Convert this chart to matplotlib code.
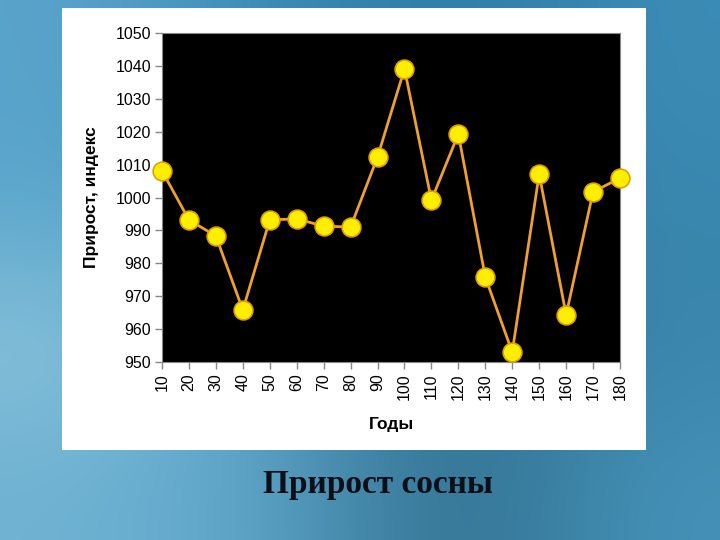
import numpy as np
import matplotlib.pyplot as plt
from matplotlib.colors import to_rgb

years = [10, 20, 30, 40, 50, 60, 70, 80, 90, 100, 110, 120, 130, 140, 150, 160, 170, 180]
growth = [1008.1, 993.2, 988.3, 965.8, 993.2, 993.5, 991.3, 991.0, 1012.3, 1039.1,
          999.2, 1019.3, 975.8, 953.0, 1007.1, 964.3, 1001.7, 1005.9]

ylabel = 'Прирост, индекс'
xlabel = 'Годы'
caption = 'Прирост сосны'

plt.rcParams['font.family'] = ['Liberation Sans', 'DejaVu Sans']

fig = plt.figure(figsize=(7.2, 5.4), dpi=100)

# slide background: blue gradient, lighter towards the lower left
bg = fig.add_axes([0, 0, 1, 1])
corners = np.array([
    [to_rgb('#5aa4cc'), to_rgb('#3a8ab4'), to_rgb('#2f7aa6'), to_rgb('#3b8cb6')],
    [to_rgb('#5aa6cc'), to_rgb('#3e8db6'), to_rgb('#2c7299'), to_rgb('#3a88b0')],
    [to_rgb('#8cc4dc'), to_rgb('#4f9cc2'), to_rgb('#2e6a88'), to_rgb('#3a86ac')],
    [to_rgb('#6fb2d2'), to_rgb('#5aa4c8'), to_rgb('#2f6c8a'), to_rgb('#4592b8')],
])
bg.imshow(corners, aspect='auto', interpolation='bicubic', extent=[0, 1, 0, 1])
bg.set_axis_off()

# white chart panel
panel = fig.add_axes([62 / 720, 1 - 450 / 540, 584 / 720, 442 / 540])
panel.set_facecolor('white')
panel.set_xticks([])
panel.set_yticks([])
for s in panel.spines.values():
    s.set_visible(False)

ax = fig.add_axes([162 / 720, 1 - 362 / 540, 458 / 720, 329 / 540])
ax.set_facecolor('black')
ax.plot(years, growth, color='#f0a030', linewidth=2, marker='o', markersize=13.5,
        markerfacecolor='#ffee00', markeredgecolor='#e0a000', markeredgewidth=1.2,
        clip_on=False, zorder=3)
ax.set_xlim(10, 180)
ax.set_ylim(950, 1050)
ax.set_xticks(years)
ax.set_xticklabels([str(y) for y in years], rotation=90)
ax.set_yticks(np.arange(950, 1051, 10))
ax.tick_params(axis='both', labelsize=11.5, direction='out', length=5, width=1,
               color='#888888', labelcolor='black', pad=3)
for s in ax.spines.values():
    s.set_color('#888888')
ax.set_xlabel(xlabel, fontsize=12.5, fontweight='bold', labelpad=12)
ax.set_ylabel(ylabel, fontsize=12.5, fontweight='bold', labelpad=12)

fig.text(378 / 720, 1 - 484 / 540, caption, ha='center', va='center',
         fontsize=24, fontweight='bold', family=['Liberation Serif', 'DejaVu Serif'],
         color='#0c0f18')

fig.savefig('out.png', dpi=100)
